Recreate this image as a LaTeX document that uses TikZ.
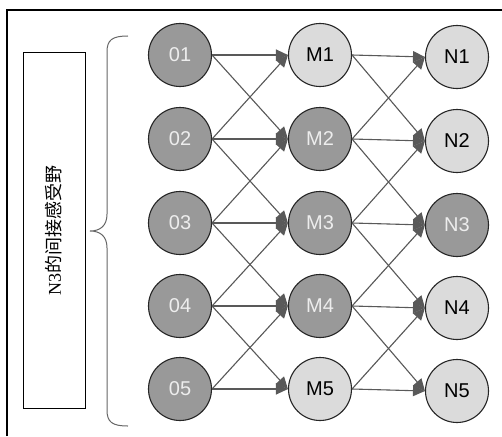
\documentclass[tikz,border=0pt]{standalone}
\usepackage{fontspec}
\setmainfont{Liberation Serif}
\setsansfont{Liberation Sans}
\newfontfamily\cjk{Noto Sans CJK SC}
\usetikzlibrary{arrows.meta}

\begin{document}
\begin{tikzpicture}[x=1pt, y=-1pt]
    % Styles
    \tikzstyle{dark} = [circle, draw=black!85, line width=1.1pt, minimum size=63pt, inner sep=0pt, fill=black!40, text=white!93!black, font=\sffamily\fontsize{20}{20}\selectfont]
    \tikzstyle{light} = [dark, fill=black!14, text=black]
    \tikzstyle{arrow} = [-{Triangle[length=12pt, width=11pt]}, draw=black!65, fill=black!65, line width=1.1pt]
    \tikzstyle{frame} = [draw=black, line width=2.6pt]

    \useasboundingbox (0,0) rectangle (502,436);
    \draw[frame] (7,436) -- (7,10) -- (502,10);

    % Nodes
    \node[dark] (O1) at (180, 55) {01};
    \node[dark] (O2) at (180, 139) {02};
    \node[dark] (O3) at (180, 223) {03};
    \node[dark] (O4) at (180, 306) {04};
    \node[dark] (O5) at (180, 389) {05};

    \node[light] (M1) at (320, 55) {M1};
    \node[dark] (M2) at (320, 139) {M2};
    \node[dark] (M3) at (320, 223) {M3};
    \node[dark] (M4) at (320, 306) {M4};
    \node[light] (M5) at (320, 389) {M5};

    \node[light] (N1) at (457, 57) {N1};
    \node[light] (N2) at (457, 141) {N2};
    \node[dark] (N3) at (457, 225) {N3};
    \node[light] (N4) at (457, 308) {N4};
    \node[light] (N5) at (457, 391) {N5};

    \node[draw=black, line width=1pt, minimum width=62pt, minimum height=356pt] (field) at (54, 230) {};
    \node[rotate=90, font=\fontsize{18}{18}\selectfont] (fieldtext) at (field.center) {N3{\cjk 的间接感受野}};

    % Brace
    \draw[black!60, line width=1pt] (128,36) .. controls (112,36) and (107,40) .. (107,52)
        -- (107,214) .. controls (107,226) and (100,231) .. (90,231)
        .. controls (100,231) and (107,236) .. (107,248)
        -- (107,410) .. controls (107,422) and (112,426) .. (128,426);

    % Arrows
    \draw[arrow] (O1.east) -- (M1.west);
    \draw[arrow] (O1.east) -- (M2.west);
    \draw[arrow] (O2.east) -- (M1.west);
    \draw[arrow] (O2.east) -- (M2.west);
    \draw[arrow] (O2.east) -- (M3.west);
    \draw[arrow] (O3.east) -- (M2.west);
    \draw[arrow] (O3.east) -- (M3.west);
    \draw[arrow] (O3.east) -- (M4.west);
    \draw[arrow] (O4.east) -- (M3.west);
    \draw[arrow] (O4.east) -- (M4.west);
    \draw[arrow] (O4.east) -- (M5.west);
    \draw[arrow] (O5.east) -- (M4.west);
    \draw[arrow] (O5.east) -- (M5.west);

    \draw[arrow] (M1.east) -- (N1.west);
    \draw[arrow] (M1.east) -- (N2.west);
    \draw[arrow] (M2.east) -- (N1.west);
    \draw[arrow] (M2.east) -- (N2.west);
    \draw[arrow] (M2.east) -- (N3.west);
    \draw[arrow] (M3.east) -- (N2.west);
    \draw[arrow] (M3.east) -- (N3.west);
    \draw[arrow] (M3.east) -- (N4.west);
    \draw[arrow] (M4.east) -- (N3.west);
    \draw[arrow] (M4.east) -- (N4.west);
    \draw[arrow] (M4.east) -- (N5.west);
    \draw[arrow] (M5.east) -- (N4.west);
    \draw[arrow] (M5.east) -- (N5.west);
\end{tikzpicture}
\end{document}
